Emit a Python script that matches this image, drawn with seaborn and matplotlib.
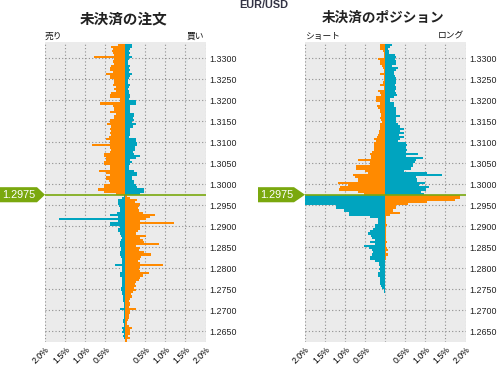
import numpy as np
import pandas as pd
import seaborn as sns
import matplotlib
matplotlib.use('Agg')
import matplotlib.pyplot as plt
from matplotlib.patches import Polygon
from matplotlib.transforms import blended_transform_factory

# EUR/USD open orders / open positions, % per 0.0005 price bucket
# rows run from the top bucket (1.3330-1.3335) down, price line at 1.2975

# --- open orders (left panel) ---
orders_above_orange = [0.17, 0.35, 0.31, 0.33, 0.31, 0.29, 0.79, 0.29, 0.31, 0.27,
                       0.35, 0.37, 0.37, 0.31, 0.49, 0.38, 0.38, 0.27, 0.27, 0.31,
                       0.24, 0.27, 0.23, 0.35, 0.39, 0.39, 0.14, 0.14, 0.64, 0.31,
                       0.27, 0.27, 0.37, 0.24, 0.27, 0.27, 0.39, 0.39, 0.46, 0.35,
                       0.39, 0.35, 0.39, 0.35, 0.41, 0.49, 0.38, 0.39, 0.83, 0.38,
                       0.35, 0.38, 0.52, 0.54, 0.48, 0.49, 0.52, 0.52, 0.38, 0.38,
                       0.66, 0.48, 0.38, 0.49, 0.48, 0.41, 0.38, 0.52, 0.52, 0.69,
                       0.52, 0.24]
orders_above_teal = [0.16, 0.16, 0.11, 0.09, 0.13, 0.09, 0.16, 0.09, 0.07, 0.08,
                     0.11, 0.09, 0.11, 0.09, 0.16, 0.11, 0.09, 0.08, 0.08, 0.11,
                     0.09, 0.07, 0.09, 0.09, 0.11, 0.13, 0.09, 0.26, 0.26, 0.11,
                     0.11, 0.13, 0.13, 0.23, 0.23, 0.19, 0.21, 0.18, 0.28, 0.19,
                     0.11, 0.11, 0.13, 0.11, 0.09, 0.26, 0.28, 0.29, 0.29, 0.24,
                     0.24, 0.19, 0.21, 0.38, 0.26, 0.13, 0.16, 0.13, 0.09, 0.09,
                     0.23, 0.30, 0.30, 0.16, 0.16, 0.21, 0.21, 0.28, 0.30, 0.46,
                     0.46, 0.36]
orders_below_orange = [0.04, 0.13, 0.30, 0.25, 0.38, 0.34, 0.32, 0.34, 0.44, 0.73,
                       0.61, 0.51, 0.36, 1.21, 0.36, 0.38, 0.36, 0.32, 0.28, 0.51,
                       0.36, 0.44, 0.46, 0.83, 0.28, 0.36, 0.34, 0.46, 0.63, 0.40,
                       0.36, 0.32, 0.36, 0.93, 0.36, 0.34, 0.36, 0.58, 0.44, 0.38,
                       0.34, 0.28, 0.24, 0.28, 0.23, 0.26, 0.19, 0.15, 0.18, 0.11,
                       0.09, 0.13, 0.11, 0.09, 0.26, 0.13, 0.11, 0.09, 0.09, 0.07,
                       0.05, 0.05, 0.09, 0.17, 0.13, 0.11, 0.11, 0.08, 0.11, 0.04]
orders_below_teal = [0.03, 0.09, 0.19, 0.17, 0.17, 0.16, 0.14, 0.14, 0.20, 0.39,
                     0.17, 1.64, 0.17, 0.37, 0.37, 0.14, 0.17, 0.19, 0.13, 0.11,
                     0.09, 0.11, 0.12, 0.14, 0.13, 0.10, 0.10, 0.12, 0.12, 0.11,
                     0.09, 0.08, 0.08, 0.26, 0.09, 0.09, 0.08, 0.12, 0.12, 0.09,
                     0.09, 0.08, 0.08, 0.09, 0.11, 0.11, 0.08, 0.08, 0.06, 0.06,
                     0.06, 0.04, 0.04, 0.04, 0.14, 0.04, 0.03, 0.03, 0.03, 0.06,
                     0.06, 0.04, 0.03, 0.08, 0.06, 0.08, 0.04, 0.06, 0.03, 0.00]

# --- open positions (right panel) ---
pos_above_orange = [0.14, 0.13, 0.14, 0.06, 0.04, 0.03, 0.03, 0.18, 0.14,
                    0.14, 0.09, 0.06, 0.03, 0.03, 0.14, 0.04, 0.04, 0.03, 0.06,
                    0.14, 0.03, 0.03, 0.18, 0.13, 0.10, 0.24, 0.24, 0.24, 0.14,
                    0.21, 0.18, 0.14, 0.13, 0.10, 0.10, 0.14, 0.10, 0.08,
                    0.14, 0.14, 0.14, 0.16, 0.16, 0.18, 0.20, 0.29, 0.24, 0.27,
                    0.29, 0.29, 0.27, 0.33, 0.39, 0.35, 0.35, 0.67, 0.39, 0.39,
                    0.74, 0.73, 0.51, 0.42, 0.81, 0.75, 0.67, 0.67, 1.18, 0.93,
                    1.14, 1.16, 0.67, 0.54]
pos_above_teal = [0.18, 0.13, 0.08, 0.09, 0.09, 0.24, 0.26, 0.24, 0.28,
                  0.28, 0.16, 0.33, 0.26, 0.21, 0.23, 0.24, 0.26, 0.26, 0.26,
                  0.24, 0.26, 0.28, 0.24, 0.26, 0.29, 0.23, 0.13, 0.13, 0.23,
                  0.21, 0.26, 0.26, 0.26, 0.26, 0.38, 0.26, 0.26, 0.26,
                  0.32, 0.38, 0.46, 0.36, 0.46, 0.34, 0.46, 0.36, 0.32, 0.51,
                  0.54, 0.51, 0.53, 0.51, 0.82, 0.51, 0.93, 0.76, 0.73, 0.69,
                  0.68, 0.63, 0.46, 1.03, 1.41, 0.76, 0.78, 0.78, 0.98, 0.84,
                  1.09, 1.01, 0.88, 0.96]
pos_below_orange = [1.86, 1.86, 1.73, 1.04, 0.57, 0.26, 0.26, 0.19, 0.38, 0.13,
                    0.03, 0.03, 0.01, 0.01, 0.04, 0.03, 0.01, 0.01, 0.03, 0.03,
                    0.03, 0.01, 0.04, 0.03, 0.03, 0.04, 0.06, 0.01, 0.08, 0.03,
                    0.03] + [0.0] * 39
pos_below_teal = [2.20, 2.20, 2.20, 2.20, 2.20, 1.23, 1.23, 1.02, 0.91, 0.91,
                  0.37, 0.18, 0.18, 0.18, 0.26, 0.26, 0.31, 0.39, 0.43, 0.35,
                  0.33, 0.26, 0.39, 0.26, 0.54, 0.41, 0.33, 0.31, 0.34, 0.39,
                  0.39, 0.26, 0.16, 0.16, 0.14, 0.16, 0.13, 0.19, 0.19, 0.14,
                  0.13, 0.14, 0.12, 0.10, 0.08, 0.04, 0.04] + [0.0] * 23

current_price = 1.2975
price_ticks = [1.2650, 1.2700, 1.2750, 1.2800, 1.2850, 1.2900, 1.2950,
               1.3000, 1.3050, 1.3100, 1.3150, 1.3200, 1.3250, 1.3300]
pct_ticks = [-2.0, -1.5, -1.0, -0.5, 0.0, 0.5, 1.0, 1.5, 2.0]
pct_labels = ['2.0%', '1.5%', '1.0%', '0.5%', '', '0.5%', '1.0%', '1.5%', '2.0%']

ORANGE = '#ff8a00'
TEAL = '#00a4bf'
GREEN = '#7aa80e'
BG = '#ebebeb'

# bucket centres, top to bottom
n_rows = len(orders_above_orange) + len(orders_below_orange)
prices = np.round(1.33325 - 0.0005 * np.arange(n_rows), 5)

plt.rcParams['font.family'] = ['Liberation Sans', 'Noto Sans CJK JP']

fig = plt.figure(figsize=(4.97, 3.65), dpi=100)
W, H = 497.0, 365.0


def make_panel(left_px, orange_above, orange_below, teal_above, teal_below):
    ax = fig.add_axes([left_px / W, 23 / H, 160.5 / W, 300 / H])
    df = pd.DataFrame({
        'price': prices,
        'orange': [-v for v in orange_above] + list(orange_below),
        'teal': list(teal_above) + [-v for v in teal_below],
    })
    sns.barplot(data=df, x='orange', y='price', orient='y', native_scale=True,
                width=1.0, color=ORANGE, saturation=1, errorbar=None,
                linewidth=0, ax=ax)
    sns.barplot(data=df, x='teal', y='price', orient='y', native_scale=True,
                width=1.0, color=TEAL, saturation=1, errorbar=None,
                linewidth=0, ax=ax)
    ax.set_facecolor(BG)
    ax.set_xlim(-2.0, 2.0)
    ax.set_ylim(1.2624, 1.3339)
    ax.set_axisbelow(True)
    ax.grid(True, color='#8f8f8f', linestyle=(0, (1, 2)), linewidth=0.8)
    for s in ax.spines.values():
        s.set_visible(False)
    ax.set_xticks(pct_ticks)
    ax.set_xticklabels(pct_labels, rotation=45, ha='right',
                       rotation_mode='anchor', fontsize=6.3)
    ax.yaxis.tick_right()
    ax.set_yticks(price_ticks)
    ax.set_yticklabels(['{:.4f}'.format(p) for p in price_ticks], fontsize=6.4,
                       color='#222222')
    ax.tick_params(axis='both', length=0)
    ax.tick_params(axis='x', pad=2)
    ax.tick_params(axis='y', pad=2.5)
    ax.set_xlabel('')
    ax.set_ylabel('')
    ax.axhline(current_price, color=GREEN, lw=1.2, zorder=5)
    return ax


ax1 = make_panel(45, orders_above_orange, orders_below_orange,
                 orders_above_teal, orders_below_teal)
ax2 = make_panel(305, pos_above_orange, pos_below_orange,
                 pos_above_teal, pos_below_teal)

# current price markers
h = 0.0018
for ax, (x0, x1, tip) in [(ax1, (0, 37, 45)), (ax2, (258, 294, 305))]:
    tr = blended_transform_factory(fig.transFigure, ax.transData)
    pts = [(x0 / W, current_price + h), (x1 / W, current_price + h),
           (tip / W, current_price), (x1 / W, current_price - h),
           (x0 / W, current_price - h)]
    fig.add_artist(Polygon(pts, closed=True, transform=tr, fc=GREEN, ec='none',
                           clip_on=False, zorder=10))
    fig.text((x0 + 2) / W, current_price, '{:.4f}'.format(current_price),
             transform=tr, color='white', fontsize=7.8, ha='left',
             va='center', zorder=11)

# titles and labels
fig.text(263.5 / W, 1 - 5 / H, 'EUR/USD', ha='center', va='center',
         fontsize=7.8, fontweight='bold', color='#333344')
fig.text(124 / W, 1 - 18 / H, '未決済の注文', ha='center', va='center',
         fontsize=10.5, fontweight='bold', color='#222222',
         family='Noto Sans CJK JP')
fig.text(383 / W, 1 - 18 / H, '未決済のポジション', ha='center', va='center',
         fontsize=9.8, fontweight='bold', color='#222222',
         family='Noto Sans CJK JP')
side_kw = dict(va='center', fontsize=6.3, color='#111111',
               family='Noto Sans CJK JP')
fig.text(45 / W, 1 - 36 / H, '売り', ha='left', **side_kw)
fig.text(204 / W, 1 - 36 / H, '買い', ha='right', **side_kw)
fig.text(305 / W, 1 - 36 / H, 'ショート', ha='left', **side_kw)
fig.text(464 / W, 1 - 36 / H, 'ロング', ha='right', **side_kw)

fig.savefig('out.png', dpi=100)
